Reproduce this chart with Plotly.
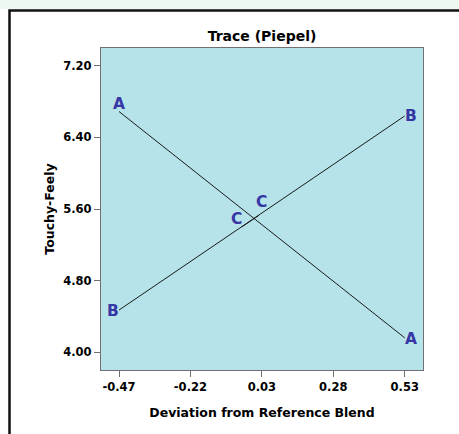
import plotly.graph_objects as go

# Data
components = ["A", "B", "C"]
dev_x = {
    "A": [-0.47, 0.53],
    "B": [-0.47, 0.53],
    "C": [-0.04, 0.02],
}
response_y = {
    "A": [6.69, 4.16],
    "B": [4.47, 6.64],
    "C": [5.40, 5.53],
}
x_ticks = [-0.47, -0.22, 0.03, 0.28, 0.53]
x_tick_labels = ["-0.47", "-0.22", "0.03", "0.28", "0.53"]
y_ticks = [4.00, 4.80, 5.60, 6.40, 7.20]
y_tick_labels = ["4.00", "4.80", "5.60", "6.40", "7.20"]

# label pixel offsets (start, end) for each component letter
label_shift = {
    "A": [(0, 8), (6, -1)],
    "B": [(-6, -1), (6, 0)],
    "C": [(-5, 8), (2, 13)],
}

FONT = "DejaVu Sans"
LETTER_COLOR = "#3636a4"

fig = go.Figure()
for c in components:
    fig.add_trace(go.Scatter(
        x=dev_x[c], y=response_y[c], mode="lines",
        line=dict(color="#1a1a1a", width=1), name=c, showlegend=False,
        hoverinfo="skip",
    ))

annotations = []
for c in components:
    for i in range(2):
        xs, ys = label_shift[c][i]
        annotations.append(dict(
            x=dev_x[c][i], y=response_y[c][i], xref="x", yref="y",
            text="<b>%s</b>" % c, showarrow=False,
            xshift=xs, yshift=ys, xanchor="center", yanchor="middle",
            font=dict(family=FONT, size=15.5, color=LETTER_COLOR),
        ))

L, R, T, B = 101, 36, 48, 64
W, H = 459, 434
pw, ph = W - L - R, H - T - B

def px_x(p):
    return (p - L) / pw

def px_y(p):
    return (H - B - p) / ph

shapes = [
    # light strip above the frame
    dict(type="rect", xref="paper", yref="paper",
         x0=px_x(-5), x1=px_x(W + 5), y0=px_y(9), y1=px_y(-5),
         fillcolor="#eef8f2", line=dict(width=0), layer="below"),
    # outer frame
    dict(type="rect", xref="paper", yref="paper",
         x0=px_x(9.5), x1=px_x(W + 20), y0=px_y(H + 20), y1=px_y(10.5),
         line=dict(color="#111111", width=2.5), fillcolor="rgba(0,0,0,0)",
         layer="above"),
]

fig.update_layout(
    width=W, height=H,
    margin=dict(l=L, r=R, t=T, b=B),
    paper_bgcolor="white",
    plot_bgcolor="#b6e3ea",
    title=dict(text="<b>Trace (Piepel)</b>", x=(L + pw / 2) / W, xanchor="center",
               y=1 - 36 / H, yanchor="middle",
               font=dict(family=FONT, size=14, color="black")),
    font=dict(family=FONT, color="black"),
    annotations=annotations,
    shapes=shapes,
    xaxis=dict(
        range=[-0.533, 0.594], tickvals=x_ticks, ticktext=["<b>%s</b>" % t for t in x_tick_labels],
        showgrid=False, zeroline=False, showline=True, mirror=True,
        linecolor="#707070", linewidth=1.2, ticks="outside", ticklen=6,
        tickcolor="#707070", tickfont=dict(family=FONT, size=11.5, color="black"),
        title=dict(text="<b>Deviation from Reference Blend</b>", standoff=15,
                   font=dict(family=FONT, size=12.5, color="black")),
    ),
    yaxis=dict(
        range=[3.8, 7.4], tickvals=y_ticks, ticktext=["<b>%s</b>" % t for t in y_tick_labels],
        showgrid=False, zeroline=False, showline=True, mirror=True,
        linecolor="#707070", linewidth=1.2, ticks="outside", ticklen=6,
        tickcolor="#707070", tickfont=dict(family=FONT, size=11.5, color="black"),
        title=dict(text="<b>Touchy-Feely</b>", standoff=5,
                   font=dict(family=FONT, size=12.5, color="black")),
    ),
)

fig.write_html("out.html", config={"displayModeBar": False},
               post_script="document.body.style.margin='0';document.body.style.overflow='hidden';")
